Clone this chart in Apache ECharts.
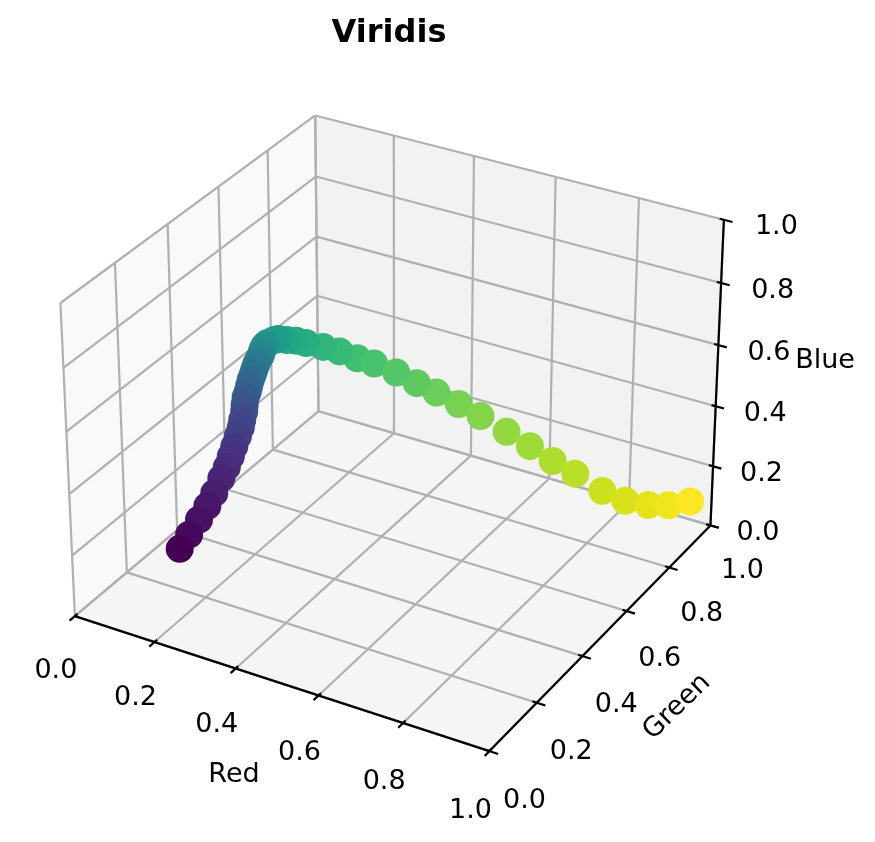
<!DOCTYPE html>
<html><head><meta charset="utf-8">
<style>html,body{margin:0;padding:0;background:#fff}#c{width:875px;height:842px}</style>
<script src="https://cdn.jsdelivr.net/npm/echarts@6/dist/echarts.min.js"></script>
</head><body><div id="c"></div>
<script>
const titleText = 'Viridis';
const axisNames = ['Red', 'Green', 'Blue'];
const tickValues = [0, 0.2, 0.4, 0.6, 0.8, 1];
const tickLabels = ['0.0', '0.2', '0.4', '0.6', '0.8', '1.0'];
const red = [.267,.274,.279,.282,.283,.282,.280,.275,.269,.261,.254,.244,.234,.224,.211,.203,.194,.185,.176,.168,.160,.153,.147,.138,.130,.125,.122,.122,.123,.134,.146,.161,.191,.221,.253,.288,.335,.378,.420,.468,.516,.573,.625,.678,.730,.792,.846,.898,.945,.993];
const green = [.005,.031,.062,.090,.116,.146,.171,.195,.219,.246,.269,.291,.315,.333,.358,.379,.399,.420,.443,.463,.483,.503,.522,.542,.561,.575,.591,.617,.633,.651,.669,.686,.708,.727,.749,.762,.777,.792,.805,.819,.831,.846,.858,.865,.873,.883,.888,.896,.899,.906];
const blue = [.329,.359,.387,.412,.436,.462,.480,.496,.510,.521,.531,.537,.544,.549,.552,.553,.554,.557,.557,.558,.558,.558,.556,.554,.551,.548,.544,.537,.531,.520,.511,.498,.482,.466,.441,.428,.406,.377,.353,.324,.294,.253,.217,.183,.155,.115,.100,.101,.117,.144];

// matplotlib's default 3D view (elev 30, azim -60) mapped to the page
const U=[.8660254,.5,0], V=[-.25,.4330127,.8660254], W=[.4330127,-.75,.5];
const A=[1.1429,1.1429,.8571], DIST=10, SX=4157, SY=4165, CX=398.3, CY=418.6;
function dep(p){return W[0]*(p[0]-.5)*A[0]+W[1]*(p[1]-.5)*A[1]+W[2]*(p[2]-.5)*A[2];}
function project(p){
  const d=[(p[0]-.5)*A[0],(p[1]-.5)*A[1],(p[2]-.5)*A[2]];
  const den=DIST-(W[0]*d[0]+W[1]*d[1]+W[2]*d[2]);
  return [CX+SX*(U[0]*d[0]+U[1]*d[1])/den, CY-SY*(V[0]*d[0]+V[1]*d[1]+V[2]*d[2])/den];
}
const FONT='"DejaVu Sans"';
const panes=[
 {c:'#f9f9f9',p:[[0,0,0],[0,1,0],[0,1,1],[0,0,1]]},
 {c:'#f2f2f2',p:[[0,1,0],[1,1,0],[1,1,1],[0,1,1]]},
 {c:'#f5f5f5',p:[[0,0,0],[1,0,0],[1,1,0],[0,1,0]]}
];
const gridSegs=[], axisSegs=[];
tickValues.forEach(t=>{
  gridSegs.push([[0,t,0],[0,t,1]],[[0,0,t],[0,1,t]],[[t,1,0],[t,1,1]],[[0,1,t],[1,1,t]],[[t,0,0],[t,1,0]],[[0,t,0],[1,t,0]]);
  axisSegs.push([[t,-.02,0],[t,.01,0]],[[.99,t,0],[1.02,t,0]],[[.99,1,t],[1.02,1,t]]);
});
axisSegs.push([[0,0,0],[1,0,0]],[[1,0,0],[1,1,0]],[[1,1,0],[1,1,1]]);

function segSeries(name,segs,color,width,z){
  return {type:'custom',name,silent:true,z,coordinateSystem:'cartesian2d',clip:false,
    data:segs.map(s=>[...project(s[0]),...project(s[1])]),
    renderItem:(params,api)=>{
      const a=api.coord([api.value(0),api.value(1)]), b=api.coord([api.value(2),api.value(3)]);
      return {type:'line',shape:{x1:a[0],y1:a[1],x2:b[0],y2:b[1]},style:{stroke:color,lineWidth:width,lineCap:'butt'}};
    },encode:{x:0,y:1}};
}
const labels=[];
tickValues.forEach((t,i)=>{
  let q=project([t,0,0]); labels.push({x:q[0]-19,y:q[1]+55+5*t,text:tickLabels[i],rot:0});
  q=project([1,t,0]); labels.push({x:q[0]+35-3*t,y:q[1]+50-4*t,text:tickLabels[i],rot:0});
  q=project([1,1,t]); labels.push({x:q[0]+47.5+5*t,y:q[1]+7.5,text:tickLabels[i],rot:0});
});
labels.push({x:234,y:774.5,text:axisNames[0],rot:0});
labels.push({x:677,y:707,text:axisNames[1],rot:44});
labels.push({x:825,y:361,text:axisNames[2],rot:0});

const points=red.map((r,i)=>({p:[r,green[i],blue[i]],i})).sort((a,b)=>dep(a.p)-dep(b.p));
const hex=v=>Math.round(v*255);

const chart=echarts.init(document.getElementById('c'),null,{renderer:'canvas'});
chart.setOption({
  animation:false,backgroundColor:'#fff',
  title:{text:titleText,left:384,top:13,textAlign:'center',textStyle:{fontFamily:FONT,fontWeight:'bold',fontSize:32,color:'#000'}},
  grid:{left:0,right:0,top:0,bottom:0},
  xAxis:{type:'value',min:0,max:875,show:false},
  yAxis:{type:'value',min:0,max:842,inverse:true,show:false},
  tooltip:{show:false},
  series:[
    {type:'custom',name:'panes',silent:true,z:1,clip:false,
     data:panes.map((_,i)=>[i]),
     renderItem:(params,api)=>{
       const pn=panes[api.value(0)];
       return {type:'polygon',shape:{points:pn.p.map(c=>api.coord(project(c)))},style:{fill:pn.c,stroke:'none'}};
     },encode:{x:0,y:0}},
    segSeries('grid',gridSegs,'#b0b0b0',2.2,2),
    segSeries('axes',axisSegs,'#000',2.2,3),
    {type:'scatter',name:'Viridis',z:4,symbol:'circle',symbolSize:28,silent:true,clip:false,
     data:points.map(o=>({value:project(o.p),itemStyle:{color:`rgb(${hex(o.p[0])},${hex(o.p[1])},${hex(o.p[2])})`,opacity:1}}))},
    {type:'custom',name:'labels',silent:true,z:5,clip:false,
     data:labels.map((l,i)=>[l.x,l.y,i]),
     renderItem:(params,api)=>{
       const l=labels[api.value(2)], c=api.coord([api.value(0),api.value(1)]);
       return {type:'text',x:c[0],y:c[1],rotation:l.rot*Math.PI/180,
         style:{text:l.text,fill:'#000',font:'27px '+FONT,textAlign:'center',textVerticalAlign:'middle'}};
     },encode:{x:0,y:1}}
  ]
});
</script></body></html>
